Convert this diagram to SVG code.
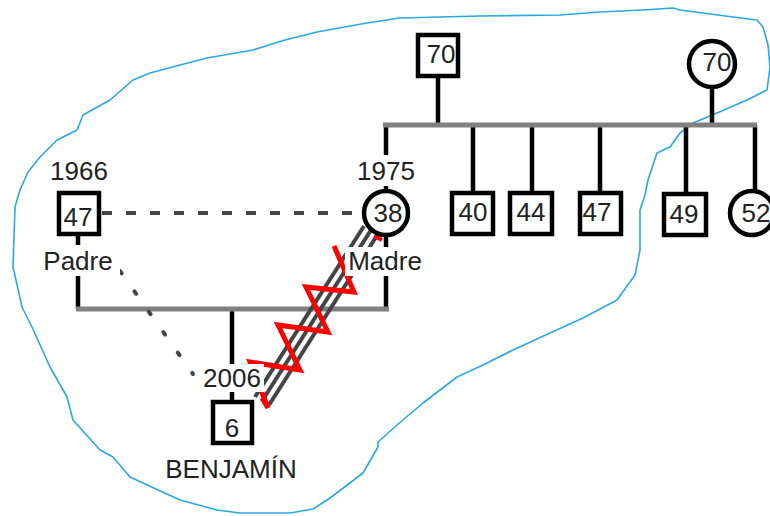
<svg xmlns="http://www.w3.org/2000/svg" width="770" height="516" viewBox="0 0 770 516">
  <style>
    .box { fill: #fff; stroke: #000; stroke-width: 4.5; }
    .lbl { font-family: "Liberation Sans", Arial, sans-serif; font-size: 26px; fill: #222; text-anchor: middle; }
    .bg { fill: #fff; }
    .kin { stroke: #000; stroke-width: 4.5; fill: none; }
    .bar { stroke: #808080; stroke-width: 5; fill: none; }
    .rel { stroke: #444; stroke-width: 4; fill: none; }
  </style>

  <!-- household boundary -->
  <path id="household" fill="none" stroke="#2aa8e0" stroke-width="1.6" stroke-linejoin="round"
        d="M20,190 L28,172 L40,157 L57,140 L77,130 L83,115 L110,100 L133,80 L150,73 L180,65 L207,58 L253,50 L285,40 L317,32 L367,23 L400,18 L480,16 L560,15 L600,12 L643,10 L673,8 L680,10 L733,17 L757,20 L763,27 L768,45 L770,67 L767,90 L747,100 L717,113 L693,123 L680,133 L670,147 L657,153 L648,180 L645,195 L640,210 L640,250 L635,275 L617,300 L583,318 L550,333 L513,350 L483,365 L457,377 L423,403 L397,425 L378,442 L378,447 L363,473 L330,498 L313,509 L290,513 L240,513 L217,510 L180,500 L143,483 L130,477 L113,457 L100,450 L73,420 L67,397 L50,367 L32,327 L22,307 L13,267 L15,207 Z"/>

  <g id="connectors">
    <!-- grandparents' sibship bar -->
    <line class="kin" x1="438" y1="78" x2="438" y2="125"/>
    <line class="kin" x1="712" y1="88" x2="712" y2="125"/>
    <line class="kin" x1="386" y1="125" x2="386" y2="191"/>
    <line class="kin" x1="473" y1="125" x2="473" y2="193"/>
    <line class="kin" x1="532" y1="125" x2="532" y2="193"/>
    <line class="kin" x1="600" y1="125" x2="600" y2="193"/>
    <line class="kin" x1="686" y1="125" x2="686" y2="194"/>
    <line class="kin" x1="755" y1="125" x2="755" y2="191"/>
    <line class="bar" x1="383" y1="125" x2="757" y2="125"/>

    <!-- parents' union and child -->
    <line class="kin" x1="78" y1="234" x2="78" y2="309"/>
    <line class="kin" x1="386" y1="235" x2="386" y2="309"/>
    <line class="kin" x1="232" y1="309" x2="232" y2="402"/>
    <line class="bar" x1="76" y1="309" x2="389" y2="309"/>

    <!-- separated couple -->
    <line class="rel" x1="102" y1="213" x2="362" y2="213" stroke-dasharray="10 14"/>

    <!-- distant father-son bond -->
    <line class="rel" x1="120" y1="271" x2="193" y2="374" stroke-width="4.5" stroke-linecap="round" stroke-dasharray="3 22"/>

    <!-- hostile mother-son bond -->
    <line class="rel" x1="364" y1="226" x2="255" y2="397"/>
    <line class="rel" x1="371" y1="230" x2="262" y2="401"/>
    <line class="rel" x1="378" y1="234" x2="269" y2="405"/>
    <polyline fill="none" stroke="#f00" stroke-width="5" stroke-linejoin="miter"
              points="334,246 354,292 306,287 328,332 278,325 300,370 250,362 268,408 262,398"/>
    <line x1="374" y1="236" x2="382" y2="240" stroke="#f00" stroke-width="4"/>
  </g>

  <g id="grandfather">
    <rect class="box" x="418" y="35" width="40" height="41"/>
    <text class="lbl" x="441" y="63">70</text>
  </g>
  <g id="grandmother">
    <circle class="box" cx="712" cy="64" r="23"/>
    <text class="lbl" x="717" y="71">70</text>
  </g>

  <g id="uncle-40">
    <rect class="box" x="452" y="193" width="41" height="41"/>
    <text class="lbl" x="473" y="221">40</text>
  </g>
  <g id="uncle-44">
    <rect class="box" x="510" y="193" width="42" height="41"/>
    <text class="lbl" x="531" y="221">44</text>
  </g>
  <g id="uncle-47">
    <rect class="box" x="580" y="193" width="41" height="41"/>
    <text class="lbl" x="597" y="221">47</text>
  </g>
  <g id="uncle-49">
    <rect class="box" x="664" y="194" width="42" height="41"/>
    <text class="lbl" x="684" y="223">49</text>
  </g>
  <g id="aunt-52">
    <circle class="box" cx="752" cy="213" r="22"/>
    <text class="lbl" x="756" y="222">52</text>
  </g>

  <g id="father">
    <text class="lbl" x="79" y="180">1966</text>
    <rect class="box" x="59" y="193" width="40" height="41"/>
    <text class="lbl" x="78" y="226">47</text>
    <rect class="bg" x="38" y="245" width="82" height="31"/>
    <text class="lbl" x="78" y="270">Padre</text>
  </g>

  <g id="mother">
    <rect class="bg" x="354" y="155" width="64" height="31"/>
    <text class="lbl" x="386" y="180">1975</text>
    <circle class="box" cx="386" cy="213" r="22"/>
    <text class="lbl" x="388" y="222">38</text>
    <rect class="bg" x="345" y="247" width="80" height="29"/>
    <text class="lbl" x="385" y="270">Madre</text>
  </g>

  <g id="child">
    <rect class="bg" x="199" y="364" width="65" height="28"/>
    <text class="lbl" x="232" y="387">2006</text>
    <rect class="box" x="213" y="402" width="39" height="41"/>
    <text class="lbl" x="232" y="437">6</text>
    <text class="lbl" x="231" y="478">BENJAMÍN</text>
  </g>
</svg>
